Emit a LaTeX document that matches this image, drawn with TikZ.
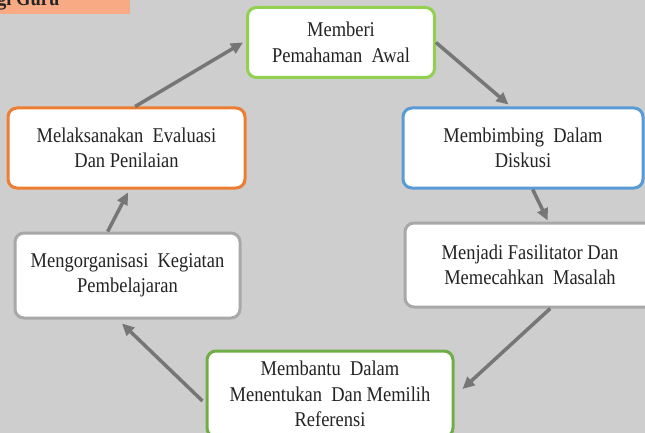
\documentclass[tikz,border=0pt]{standalone}
\usepackage{fontspec}
\setmainfont{Liberation Serif}
\newfontfamily\boxfont[FakeStretch=0.88]{Liberation Serif}
\usetikzlibrary{arrows.meta,calc}

\definecolor{bgGray}{RGB}{206,206,206}
\definecolor{lineGray}{RGB}{118,118,118}
\definecolor{boxGray}{RGB}{168,168,168}
\definecolor{lightGreen}{RGB}{146,208,80}
\definecolor{midGreen}{RGB}{112,173,71}
\definecolor{stepBlue}{RGB}{91,155,213}
\definecolor{stepOrange}{RGB}{237,125,49}
\definecolor{salmon}{RGB}{248,170,132}
\definecolor{txt}{RGB}{35,35,35}

\tikzset{
  stepbox/.style={draw, fill=white, line width=3pt, rounded corners=9pt,
    align=center, text=txt, inner sep=0pt,
    font=\boxfont\fontsize{21}{25.5}\selectfont},
  flow/.style={draw=lineGray, line width=3.5pt,
    -{Triangle[length=12pt,width=11pt]}},
}

\begin{document}
\begin{tikzpicture}[x=1pt,y=-1pt]
  \useasboundingbox (0,0) rectangle (645,433);
  \clip (0,0) rectangle (645,433);
  \fill[bgGray] (0,0) rectangle (645,433);

  % heading tab in the corner
  \fill[salmon] (0,-5) rectangle (130,14);
  \node[anchor=base west, inner sep=0pt, text=txt,
        font=\boxfont\fontsize{21}{22}\selectfont\bfseries] (tab) at (-3,6) {gi Guru};

  % the six steps of the cycle
  \node[stepbox, draw=lightGreen, minimum width=187pt, minimum height=70pt]
    (s1) at (341,42.5) {Memberi\\Pemahaman\ \ Awal};
  \node[stepbox, draw=stepBlue, minimum width=240pt, minimum height=80pt]
    (s2) at (523,148) {Membimbing\ \ Dalam\\Diskusi};
  \node[stepbox, draw=boxGray, minimum width=250pt, minimum height=84pt]
    (s3) at (530,265) {Menjadi Fasilitator Dan\\Memecahkan\ \ Masalah};
  \node[stepbox, draw=midGreen, minimum width=246pt, minimum height=86pt]
    (s4) at (330,394) {Membantu\ \ Dalam\\Menentukan\ \ Dan Memilih\\Referensi};
  \node[stepbox, draw=boxGray, minimum width=225pt, minimum height=85pt]
    (s5) at (127.5,275.5) {Mengorganisasi\ \ Kegiatan\\Pembelajaran};
  \node[stepbox, draw=stepOrange, minimum width=237pt, minimum height=80pt]
    (s6) at (126.5,148) {Melaksanakan\ \ Evaluasi\\Dan Penilaian};

  % connectors between the steps
  \draw[flow] ($(s6.north west)!0.536!(s6.north east)$) -- ([xshift=-3pt]s1.west);
  \draw[flow] (s1.east) -- ([yshift=2pt]$(s2.north west)!0.44!(s2.north east)$);
  \draw[flow] ($(s2.south west)!0.54!(s2.south east)$) -- ([yshift=1pt]$(s3.north west)!0.57!(s3.north east)$);
  \draw[flow] ($(s3.south west)!0.58!(s3.south east)$) -- ([xshift=8pt,yshift=5pt]s4.east);
  \draw[flow] ([xshift=-3pt,yshift=-7pt]s4.west) -- ([yshift=-4pt]$(s5.south west)!0.476!(s5.south east)$);
  \draw[flow] ($(s5.north west)!0.413!(s5.north east)$) -- ([yshift=-3pt]$(s6.south west)!0.506!(s6.south east)$);
\end{tikzpicture}
\end{document}
